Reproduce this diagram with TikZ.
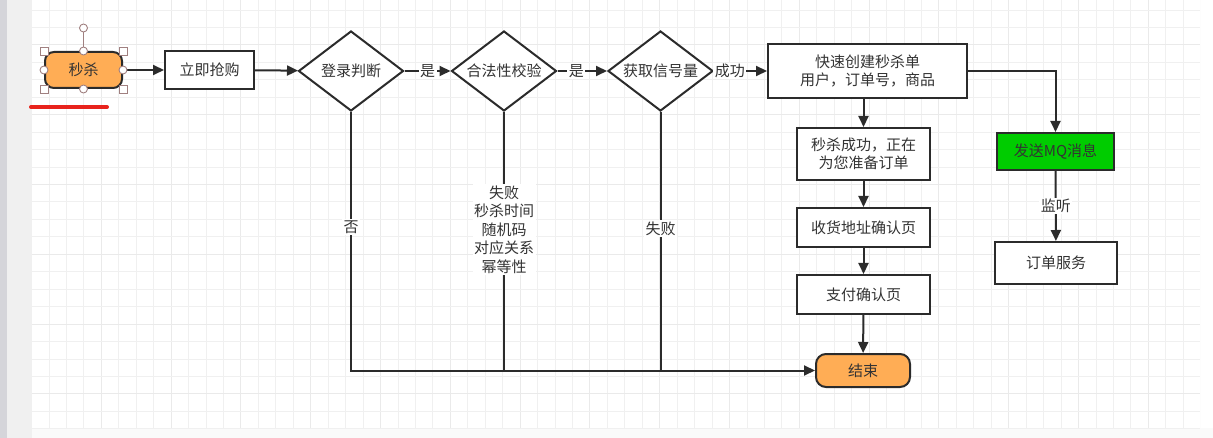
\documentclass[tikz,border=0pt]{standalone}
\usepackage{fontspec}
\setmainfont{Noto Sans CJK SC}
\usetikzlibrary{shapes.geometric,arrows.meta,calc}
\definecolor{txt}{HTML}{333333}
\definecolor{ln}{HTML}{2B2B2B}
\definecolor{orng}{HTML}{FFAD55}
\definecolor{grn}{HTML}{00CC00}
\definecolor{gminor}{HTML}{F0F0F0}
\definecolor{gmajor}{HTML}{EAEAEA}
\definecolor{hdl}{HTML}{A08080}
\definecolor{bottomgray}{HTML}{FAFAFA}
\definecolor{stripdark}{HTML}{D5D5DA}
\definecolor{striplight}{HTML}{F0F0F0}
\definecolor{redline}{HTML}{E8231C}
\tikzset{
  base/.style={draw=ln, line width=2pt, text=txt, font=\fontsize{15}{18}\selectfont, align=center, inner sep=2pt},
  procbox/.style={base, rectangle, fill=white},
  termbox/.style={base, rectangle, rounded corners=9pt, fill=orng},
  decbox/.style={base, diamond, shape aspect=1.3, inner sep=0pt, minimum width=105pt, minimum height=80pt, fill=white},
  arr/.style={draw=ln, line width=2pt, -{Triangle[length=11pt,width=10pt]}},
  plain/.style={draw=ln, line width=2pt},
  lbl/.style={fill=white, text=txt, font=\fontsize{15}{18.5}\selectfont, align=center, inner sep=1.5pt},
  hsq/.style={draw=hdl, fill=white, line width=0.9pt, rectangle, minimum size=8pt, inner sep=0pt},
  hci/.style={draw=hdl, fill=white, line width=0.9pt, circle, minimum size=8pt, inner sep=0pt}
}
\begin{document}
\begin{tikzpicture}[x=1pt,y=-1pt]
\useasboundingbox (0,0) rectangle (1213,438);
\fill[white] (0,0) rectangle (1213,438);
\fill[bottomgray] (32,428) rectangle (1213,438);
\fill[stripdark] (0,0) rectangle (7,438);
\fill[striplight] (7,0) rectangle (32,438);
% grid
\begin{scope}
\clip (32,0) rectangle (1200,428);
\foreach \i in {0,...,67} {
  \pgfmathsetmacro\xx{31.5+17.45*\i}
  \pgfmathtruncatemacro\mm{mod(\i,4)}
  \ifnum\mm=0 \draw[gmajor, line width=1pt] (\xx,0) -- (\xx,428);
  \else \draw[gminor, line width=0.9pt] (\xx,0) -- (\xx,428); \fi
}
\foreach \k in {0,...,24} {
  \pgfmathsetmacro\yy{10+17.45*\k}
  \pgfmathtruncatemacro\mm{mod(\k+2,4)}
  \ifnum\mm=0 \draw[gmajor, line width=1pt] (32,\yy) -- (1200,\yy);
  \else \draw[gminor, line width=0.9pt] (32,\yy) -- (1200,\yy); \fi
}
\end{scope}

% nodes
\node[termbox, minimum width=77pt, minimum height=36pt] (start) at (83.5,70) {秒杀};
\node[procbox, minimum width=89pt, minimum height=38pt] (buy) at (209.5,70) {立即抢购};
\node[decbox] (login) at (351,71) {登录判断};
\node[decbox] (legal) at (504,71) {合法性校验};
\node[decbox] (sem) at (660.5,71) {获取信号量};
\node[procbox, minimum width=199pt, minimum height=54pt] (create) at (867.5,71) {快速创建秒杀单\\用户，订单号，商品};
\node[procbox, minimum width=133pt, minimum height=52pt] (succ) at (863.5,154) {秒杀成功，正在\\为您准备订单};
\node[procbox, minimum width=133pt, minimum height=39pt] (addr) at (863.5,227.5) {收货地址确认页};
\node[procbox, minimum width=133pt, minimum height=39pt] (pay) at (863.5,294.5) {支付确认页};
\node[termbox, minimum width=94pt, minimum height=33pt, rounded corners=10pt] (end) at (863,370.5) {结束};
\node[procbox, fill=grn, minimum width=117pt, minimum height=37pt] (mq) at (1055.5,151.5) {发送MQ消息};
\node[procbox, minimum width=122pt, minimum height=42pt] (order) at (1056,263) {订单服务};

% connectors
\draw[arr] (start) -- (buy);
\draw[arr] (buy) -- (login);
\draw[arr] (login) -- node[lbl]{是} (legal);
\draw[arr] (legal) -- node[lbl,pos=0.38]{是} (sem);
\draw[arr] (sem) -- node[lbl,pos=0.3]{成功} (create);
\draw[arr] (create.east) -| (mq.north);
\draw[arr] (mq) -- node[lbl]{监听} (order);
\draw[arr] (succ.north |- create.south) -- (succ.north);
\draw[arr] (succ) -- (addr);
\draw[arr] (addr) -- (pay);
\draw[arr] (pay) -- (end);
\coordinate (c1) at (login.south |- end.west);
\coordinate (c2) at (legal.south |- end.west);
\coordinate (c3) at (sem.south |- end.west);
\draw[arr] (login.south) -- node[lbl,pos=0.446]{否} (c1) -- (end.west);
\draw[plain] (legal.south) -- node[lbl,pos=0.455]{失败\\秒杀时间\\随机码\\对应关系\\幂等性} (c2);
\draw[plain] (sem.south) -- node[lbl,pos=0.45]{失败} (c3);

% selection handles around start
\coordinate (rh) at ($(start.north)+(0,-23)$);
\draw[hdl, line width=0.9pt] (start.north) -- (rh);
\node[hci] (h0) at (rh) {};
\node[hsq] (h1) at (start.north west) {};
\node[hsq] (h2) at (start.north east) {};
\node[hsq] (h3) at (start.south west) {};
\node[hsq] (h4) at (start.south east) {};
\node[hci] (h5) at (start.north) {};
\node[hci] (h6) at (start.south) {};
\node[hci] (h7) at (start.west) {};
\node[hci] (h8) at (start.east) {};
% red underline
\draw[redline, line width=4pt, line cap=round] (31,107) -- (107,107);
\end{tikzpicture}
\end{document}
